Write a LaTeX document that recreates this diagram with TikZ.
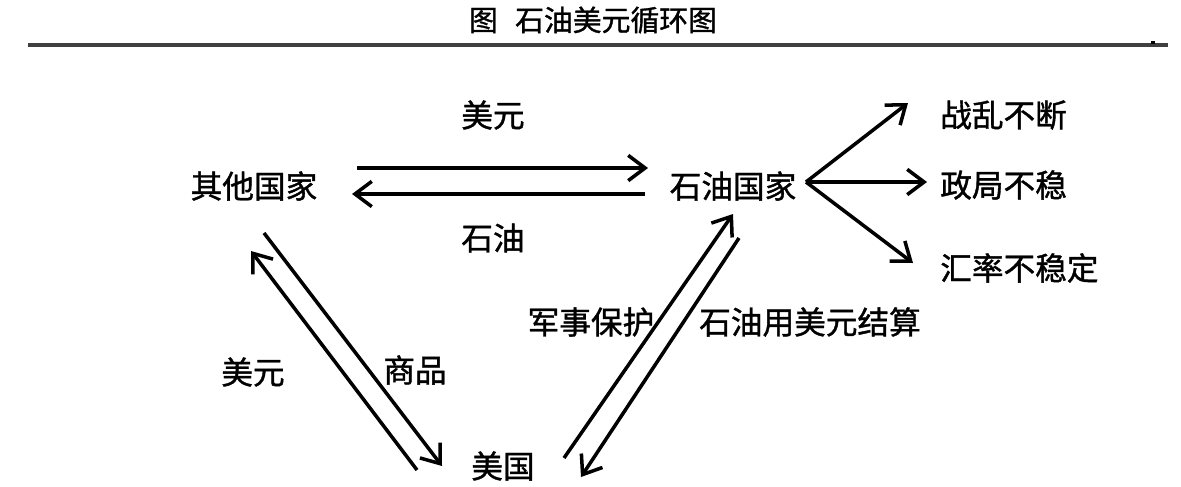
\documentclass[tikz,border=0pt]{standalone}
\usepackage{fontspec}
\newfontfamily\cjk[FakeBold=1.2]{Noto Sans CJK SC}
\usetikzlibrary{arrows.meta}
\begin{document}
\begin{tikzpicture}[x=0.025cm,y=-0.025cm,
  lbl/.style={font=\cjk\fontsize{22.5}{24}\selectfont, inner sep=0pt},
  ttl/.style={font=\cjk\fontsize{20.5}{22}\selectfont, inner sep=0pt},
  flow/.style={line width=2.5pt, -{Straight Barb[length=12pt,width=18pt,line width=2.5pt]}},
  plain/.style={line width=2.5pt}]
\useasboundingbox (0,0) rectangle (1181,486);
% title
\node[ttl] (title) at (593,20) {图\hspace{0.6em}石油美元循环图};
\coordinate (rl) at (28,45);
\coordinate (rr) at (1168,45);
\draw[line width=2.2pt, black!75] (rl) -- (rr);
\fill[black] (1151,41) rectangle (1155,44);
% nodes
\node[lbl] (other) at (254,186) {其他国家};
\node[lbl] (oil) at (733,186) {石油国家};
\node[lbl] (usa) at (503,466) {美国};
\node[lbl, anchor=west] (war) at (940,115) {战乱不断};
\node[lbl, anchor=west] (pol) at (940,185) {政局不稳};
\node[lbl, anchor=west] (fx) at (940,268) {汇率不稳定};
% labels
\node[lbl] (usd1) at (493,115) {美元};
\node[lbl] (oil1) at (493,238) {石油};
\node[lbl] (usd2) at (253,372) {美元};
\node[lbl] (goods) at (415,370) {商品};
\node[lbl] (mil) at (591,322) {军事保护};
\node[lbl] (settle) at (810,322) {石油用美元结算};
% endpoints
\coordinate (a1s) at (357,168); \coordinate (a1e) at (648,168);
\coordinate (a2s) at (645,194); \coordinate (a2e) at (352,194);
\coordinate (b1s) at (417,470); \coordinate (b1e) at (251,251);
\coordinate (b2s) at (264,233); \coordinate (b2e) at (442,466);
\coordinate (c1s) at (564,458); \coordinate (c1e) at (733,214);
\coordinate (c2s) at (739,238); \coordinate (c2e) at (581,477);
\coordinate (hub) at (806,182);
\coordinate (t1) at (908,103);
\coordinate (t2) at (927,182);
\coordinate (t3) at (913,263);
% connectors
\draw[flow] (a1s) -- (a1e);
\draw[flow] (a2s) -- (a2e);
\draw[flow] (b1s) -- (b1e);
\draw[flow] (b2s) -- (b2e);
\draw[flow] (c1s) -- (c1e);
\draw[flow] (c2s) -- (c2e);
\draw[flow] (hub) -- (t1);
\draw[flow] (hub) -- (t2);
\draw[flow] (hub) -- (t3);
\end{tikzpicture}
\end{document}
